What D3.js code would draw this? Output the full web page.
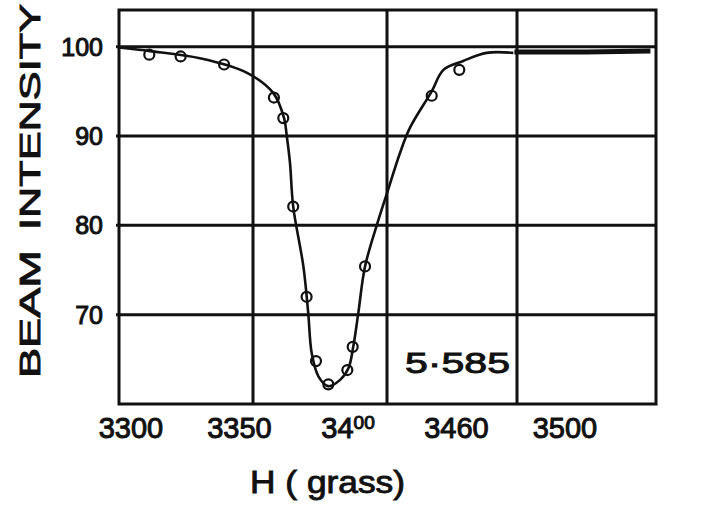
<!DOCTYPE html>
<html>
<head>
<meta charset="utf-8">
<script src="https://cdn.jsdelivr.net/npm/d3@7"></script>
<style>
  html, body { margin: 0; padding: 0; background: #fff; }
  svg { display: block; }
  text { font-family: "Liberation Sans", Arial, sans-serif; fill: #111; }
</style>
</head>
<body>
<svg id="chart" width="714" height="508"></svg>
<script>
// ---- data ----
const xTickValues = [3300, 3350, 3400, 3450, 3500];
const xTickLabels = ["3300", "3350", "3400", "3460", "3500"];
const yTickValues = [70, 80, 90, 100];
const yTickLabels = ["70", "80", "90", "100"];

// measured points (open circles)
const pointH = [3311.3, 3323.0, 3339.2, 3357.8, 3361.3, 3365.0, 3370.0, 3373.5, 3378.1, 3385.2, 3387.2, 3391.8, 3417.2, 3427.8];
const pointI = [99.1, 98.9, 98.0, 94.3, 92.0, 82.1, 72.0, 64.8, 62.2, 63.8, 66.4, 75.4, 94.5, 97.4];

// hand-drawn fitted curve
const curveH = [3300, 3311.6, 3330.2, 3347.6, 3357.6, 3361.6, 3362.6, 3363.8, 3365.0, 3368.8, 3370.6, 3371.9, 3374.4, 3378.1, 3382.5, 3385.6, 3387.4, 3389.3, 3391.8, 3396.8, 3400.0, 3405.0, 3408.8, 3417.2, 3421.7, 3429.3, 3438.3, 3448.6];
const curveI = [99.9, 99.5, 98.7, 97.1, 94.8, 92.0, 90.0, 87.0, 82.1, 75.4, 70.2, 65.7, 63.1, 62.0, 62.7, 64.0, 66.4, 70.2, 75.4, 80.6, 83.6, 88.1, 90.9, 95.0, 97.4, 98.4, 99.3, 99.3];

// scribbled baseline on the right
const tailH = [3449, 3475, 3498];
const tailI = [99.4, 99.4, 99.5];

const gValueLabel = "5·585";
const xTitle = "H ( grass)";
const yTitleWords = ["BEAM", "INTENSITY"];

// ---- layout ----
const svg = d3.select("#chart");
const pLeft = 119, pRight = 656, pTop = 10, pBottom = 404;

// hand-ruled grid is slightly uneven: piecewise linear scale through the ruled lines
const x = d3.scaleLinear()
  .domain([3300, 3350, 3400, 3450, 3500])
  .range([pLeft, 253, 387, 517, pRight]);
const y = d3.scaleLinear().domain([60, 104.1]).range([pBottom, pTop]);
// handwritten tick labels sit on their own evenly spaced positions
const xLab = d3.scalePoint().domain(xTickLabels).range([131, 565]);

const ink = "#111";

// grid lines
svg.append("g").selectAll("line")
  .data(xTickValues.slice(1, -1))
  .join("line")
  .attr("x1", d => x(d)).attr("x2", d => x(d))
  .attr("y1", pTop).attr("y2", pBottom)
  .attr("stroke", ink).attr("stroke-width", 3);

svg.append("g").selectAll("line")
  .data(yTickValues)
  .join("line")
  .attr("x1", pLeft - 3).attr("x2", pRight)
  .attr("y1", d => y(d)).attr("y2", d => y(d))
  .attr("stroke", ink).attr("stroke-width", 3);

// frame
svg.append("rect")
  .attr("x", pLeft).attr("y", pTop)
  .attr("width", pRight - pLeft).attr("height", pBottom - pTop)
  .attr("fill", "none").attr("stroke", ink).attr("stroke-width", 3);

// y tick labels
svg.append("g").selectAll("text")
  .data(yTickValues)
  .join("text")
  .attr("x", 103)
  .attr("y", d => y(d))
  .attr("dy", "0.36em")
  .attr("text-anchor", "end")
  .attr("font-size", 25)
  .attr("stroke", ink).attr("stroke-width", 1)
  .text((d, i) => yTickLabels[i]);

// x tick labels
const xl = svg.append("g").selectAll("text")
  .data(xTickLabels)
  .join("text")
  .attr("x", d => xLab(d))
  .attr("y", 438)
  .attr("text-anchor", "middle")
  .attr("font-size", 29)
  .attr("stroke", ink).attr("stroke-width", 1);
xl.each(function(d) {
  const t = d3.select(this);
  if (d === "3400") {
    t.append("tspan").text(d.slice(0, 2));
    t.append("tspan").attr("font-size", 19).attr("dy", -9).text(d.slice(2));
  } else {
    t.text(d);
  }
});

// axis titles
svg.append("text")
  .attr("x", 250).attr("y", 493)
  .attr("font-size", 31)
  .attr("textLength", 155)
  .attr("lengthAdjust", "spacingAndGlyphs")
  .attr("stroke", ink).attr("stroke-width", 0.9)
  .text(xTitle);

svg.append("text")
  .attr("transform", "translate(40,378) rotate(-90)")
  .attr("font-size", 30)
  .attr("textLength", 128)
  .attr("lengthAdjust", "spacingAndGlyphs")
  .attr("stroke", ink).attr("stroke-width", 0.9)
  .text(yTitleWords[0]);
svg.append("text")
  .attr("transform", "translate(40,230) rotate(-90)")
  .attr("font-size", 30)
  .attr("textLength", 226)
  .attr("lengthAdjust", "spacingAndGlyphs")
  .attr("stroke", ink).attr("stroke-width", 0.9)
  .text(yTitleWords[1]);

// g-value annotation
svg.append("text")
  .attr("x", 405).attr("y", 373)
  .attr("font-size", 29)
  .attr("textLength", 105)
  .attr("lengthAdjust", "spacingAndGlyphs")
  .attr("stroke", ink).attr("stroke-width", 0.9)
  .text(gValueLabel);

// fitted curve
const line = d3.line()
  .x(d => x(d[0])).y(d => y(d[1]))
  .curve(d3.curveCatmullRom.alpha(0.5));

svg.append("path")
  .datum(curveH.map((h, i) => [h, curveI[i]]))
  .attr("d", line)
  .attr("fill", "none").attr("stroke", ink).attr("stroke-width", 2.6);

svg.append("path")
  .datum(tailH.map((h, i) => [h, tailI[i]]))
  .attr("d", d3.line().x(d => x(d[0])).y(d => y(d[1])))
  .attr("fill", "none").attr("stroke", ink).attr("stroke-width", 5);

// measured points
svg.append("g").selectAll("circle")
  .data(pointH.map((h, i) => [h, pointI[i]]))
  .join("circle")
  .attr("cx", d => x(d[0])).attr("cy", d => y(d[1]))
  .attr("r", 5)
  .attr("fill", "none").attr("stroke", ink).attr("stroke-width", 2.2);
</script>
</body>
</html>
